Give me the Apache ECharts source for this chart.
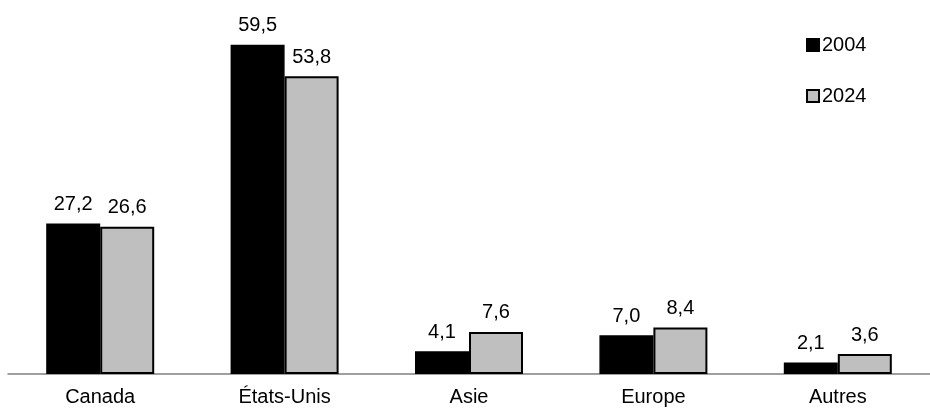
<!DOCTYPE html>
<html><head><meta charset="utf-8">
<script src="https://cdn.jsdelivr.net/npm/echarts@6/dist/echarts.min.js"></script>
<style>html,body{margin:0;padding:0;background:#fff}#c{width:930px;height:408px}</style>
</head><body><div id="c"></div>
<script>
const categories = ['Canada', 'États-Unis', 'Asie', 'Europe', 'Autres'];
const series2004 = [27.2, 59.5, 4.1, 7.0, 2.1];
const series2024 = [26.6, 53.8, 7.6, 8.4, 3.6];
const seriesNames = ['2004', '2024'];

const font = 'Liberation Sans, Arial, sans-serif';
const fs = 20;
const fmt = p => p.value.toFixed(1).replace('.', ',');
const chart = echarts.init(document.getElementById('c'), null, {renderer: 'canvas'});
chart.setOption({
  animation: false,
  backgroundColor: '#fff',
  grid: {left: 8, width: 929, top: 42, bottom: 34, containLabel: false},
  legend: {
    orient: 'vertical', left: 801, top: 30, itemWidth: 12, itemHeight: 12, itemGap: 31,
    icon: 'rect',
    textStyle: {fontFamily: font, fontSize: fs, color: '#000', padding: [0,0,0,-2]},
    data: seriesNames
  },
  xAxis: {
    type: 'category', data: categories,
    axisLine: {lineStyle: {color: '#808080', width: 1.5}},
    axisTick: {show: false},
    axisLabel: {fontFamily: font, fontSize: fs, color: '#000', margin: 13}
  },
  yAxis: {type: 'value', min: 0, max: 60, show: false, splitLine: {show: false}},
  series: [
    {name: seriesNames[0], type: 'bar', data: series2004, barWidth: 54, barGap: '0%',
     itemStyle: {color: '#000', borderColor: '#000', borderWidth: 1.5},
     label: {show: true, position: 'top', distance: 9, formatter: fmt, fontFamily: font, fontSize: fs, color: '#000'}},
    {name: seriesNames[1], type: 'bar', data: series2024, barWidth: 54, barGap: '0%',
     itemStyle: {color: '#bfbfbf', borderColor: '#000', borderWidth: 2},
     label: {show: true, position: 'top', distance: 9, formatter: fmt, fontFamily: font, fontSize: fs, color: '#000'}}
  ]
});
</script></body></html>
